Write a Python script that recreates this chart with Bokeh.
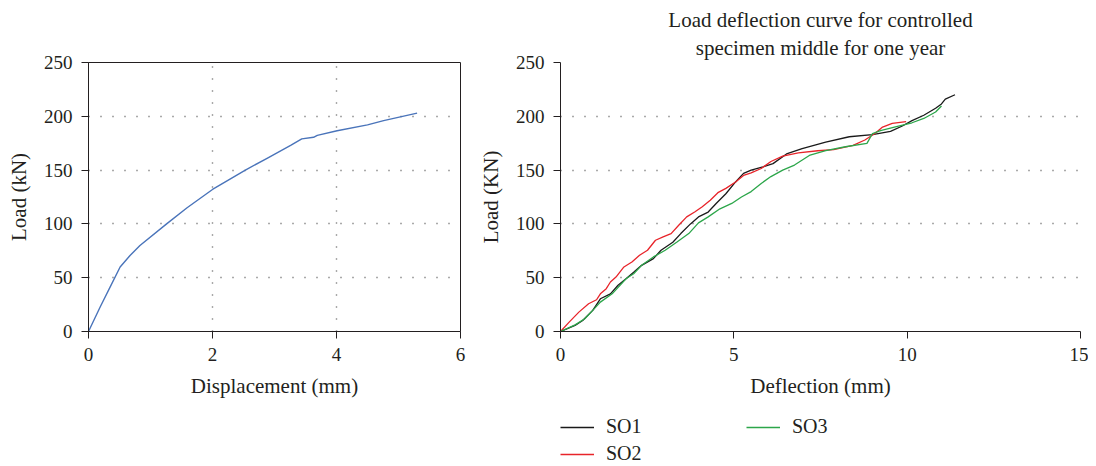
from bokeh.plotting import figure
from bokeh.layouts import row, column
from bokeh.models import Range1d, FixedTicker, Title, Legend, LegendItem, Spacer
from bokeh.embed import file_html
from bokeh.resources import INLINE

# ---- Left chart data: Load vs displacement ----
disp_mm = [0, 0.19, 0.35, 0.51, 0.67, 0.83, 1.26, 1.59, 2.0, 2.53, 2.88, 3.26,
           3.44, 3.63, 3.69, 4.01, 4.5, 4.76, 5.3]
load_kn = [0, 23, 41.5, 60, 70.7, 80, 100, 115, 132, 150, 161, 173,
           179, 180.5, 182.3, 186.6, 192, 196, 203]

# ---- Right chart data: Load vs deflection ----
so1_x = [0, 0.42, 0.64, 0.93, 1.15, 1.44, 1.66, 1.89, 2.11, 2.34, 2.68, 2.9, 3.24,
         3.47, 3.75, 3.98, 4.26, 4.49, 4.77, 5.05, 5.28, 5.5, 5.84, 6.13, 6.52,
         6.97, 7.65, 8.33, 9.0, 9.52, 9.86, 10.14, 10.48, 10.82, 10.99, 11.1, 11.38]
so1_y = [0, 5.6, 10.2, 19.6, 30.4, 35, 43, 49, 55, 61.5, 67.7, 75.5, 83,
         91, 100, 106.5, 111, 119, 128, 139, 147, 150, 153, 156, 165,
         170, 176, 181, 183, 186, 191, 196, 201, 207.5, 211.5, 216, 220]

so2_x = [0, 0.25, 0.53, 0.81, 1.04, 1.15, 1.32, 1.44, 1.6, 1.83, 2.06, 2.28, 2.51,
         2.74, 2.96, 3.19, 3.41, 3.64, 3.87, 4.09, 4.32, 4.54, 4.77, 5.05, 5.28,
         5.5, 5.79, 6.07, 6.41, 6.86, 7.42, 7.88, 8.44, 8.78, 9.07, 9.29, 9.57, 9.97]
so2_y = [0, 8.7, 18, 25.8, 29.5, 35, 39.8, 46, 50.6, 60, 64.6, 70.8, 75.5,
         84.8, 88, 91, 98.8, 106.5, 111, 116, 122, 129, 133, 139, 145,
         147.5, 151.5, 158, 163, 166, 168, 169, 173, 178, 184, 190, 193.5, 195]

so3_x = [0, 0.42, 0.7, 0.93, 1.15, 1.49, 1.89, 2.11, 2.34, 2.68, 3.02, 3.36, 3.7,
         3.98, 4.26, 4.6, 4.94, 5.22, 5.5, 5.79, 6.07, 6.41, 6.75, 7.2, 7.65,
         8.22, 8.84, 9.0, 9.23, 9.69, 10.14, 10.48, 10.82, 10.99]
so3_y = [0, 6.2, 11.8, 19.6, 27.3, 35, 49, 53.7, 61.5, 69.3, 75.5, 83.2, 91,
         101, 106.5, 114, 119, 125, 130, 137.6, 144, 150, 154.7, 164, 168,
         171.7, 174.8, 184, 186.6, 190.4, 194, 198, 204, 209.6]

series_names = ["SO1", "SO2", "SO3"]
series_colors = ["#1a1a1a", "#e8242a", "#2ca64a"]
series_x = [so1_x, so2_x, so3_x]
series_y = [so1_y, so2_y, so3_y]

left_xticks = [0, 2, 4, 6]
right_xticks = [0, 5, 10, 15]
yticks = [0, 50, 100, 150, 200, 250]

title_lines = ["Load deflection curve for controlled", "specimen middle for one year"]

FONT = "Liberation Serif"
TXT = "#231f20"
TICK_FS = "19px"
LABEL_FS = "21px"


def style(p, xticks):
    p.xaxis.ticker = FixedTicker(ticks=xticks)
    p.yaxis.ticker = FixedTicker(ticks=yticks)
    for ax in (p.xaxis, p.yaxis):
        ax.axis_label_text_font = FONT
        ax.axis_label_text_font_size = LABEL_FS
        ax.axis_label_text_font_style = "normal"
        ax.axis_label_text_color = TXT
        ax.major_label_text_font = FONT
        ax.major_label_text_font_size = TICK_FS
        ax.major_label_text_color = TXT
        ax.axis_line_color = TXT
        ax.major_tick_line_color = TXT
        ax.major_tick_in = 0
        ax.major_tick_out = 7
        ax.minor_tick_line_color = None
        ax.major_label_standoff = 9
        ax.axis_label_standoff = 10
    p.background_fill_color = "white"
    p.border_fill_color = "white"
    p.grid.grid_line_color = "#555555"
    p.grid.grid_line_dash = "1 11"
    p.grid.grid_line_width = 1.4


H = 403           # plot figure height (px)
AX0 = 331         # pixel row of load = 0
LEG_H = 62        # height of legend strip under the right chart

# ---- Left figure ----
p1 = figure(width=474, height=H, output_backend="svg", toolbar_location=None,
            x_range=Range1d(0, 6), y_range=Range1d(0, 250),
            min_border_left=88, min_border_right=14, min_border_top=62,
            min_border_bottom=H - AX0)
p1.line(disp_mm, load_kn, line_color="#4a74ba", line_width=1.4)
p1.xaxis.axis_label = "Displacement (mm)"
p1.yaxis.axis_label = "Load (kN)"
style(p1, left_xticks)
p1.outline_line_color = TXT
p1.outline_line_alpha = 1
p1.outline_line_width = 1

# ---- Right figure ----
p2 = figure(width=614, height=H, output_backend="svg", toolbar_location=None,
            x_range=Range1d(0, 15), y_range=Range1d(0, 250),
            min_border_left=86, min_border_right=8, min_border_top=62,
            min_border_bottom=H - AX0)
for xs, ys, c in zip(series_x, series_y, series_colors):
    p2.line(xs, ys, line_color=c, line_width=1.3)
p2.xaxis.axis_label = "Deflection (mm)"
p2.yaxis.axis_label = "Load (KN)"
style(p2, right_xticks)
p2.xgrid.visible = False
p2.outline_line_color = None

for i, txt in enumerate(reversed(title_lines)):
    t = Title(text=txt, align="center", text_font=FONT, text_font_size=LABEL_FS,
              text_font_style="normal", text_color=TXT,
              standoff=5 if i == 0 else 0, offset=0)
    p2.add_layout(t, "above")

# ---- Legend strip (own small figure so the legend is not clipped) ----
# The series are drawn here again only as legend sources; the view range lies
# above all loads, so the lines themselves stay out of sight.
p3 = figure(width=614, height=LEG_H, output_backend="svg", toolbar_location=None,
            x_range=Range1d(0, 15), y_range=Range1d(1000, 1001),
            x_axis_type=None, y_axis_type=None,
            min_border_left=86, min_border_right=8, min_border_top=0,
            min_border_bottom=0)
p3.grid.visible = False
p3.outline_line_color = None
p3.background_fill_color = "white"
p3.border_fill_color = "white"
items = []
for name, xs, ys, c in zip(series_names, series_x, series_y, series_colors):
    src = p3.line(xs, ys, line_color=c, line_width=1.3)
    items.append(LegendItem(label=name, renderers=[src]))

legend = Legend(items=items, location=(0, 0), ncols=2, orientation="vertical",
                padding=0, margin=0, spacing=4,
                glyph_width=34, glyph_height=20, label_height=20,
                label_width=136, label_standoff=12,
                label_text_font=FONT, label_text_font_size="20px",
                label_text_color=TXT, border_line_color=None,
                background_fill_alpha=0)
p3.add_layout(legend, "center")

layout = row(column(p1, Spacer(width=474, height=LEG_H)), column(p2, p3))
open("out.html", "w").write(file_html(layout, INLINE))
